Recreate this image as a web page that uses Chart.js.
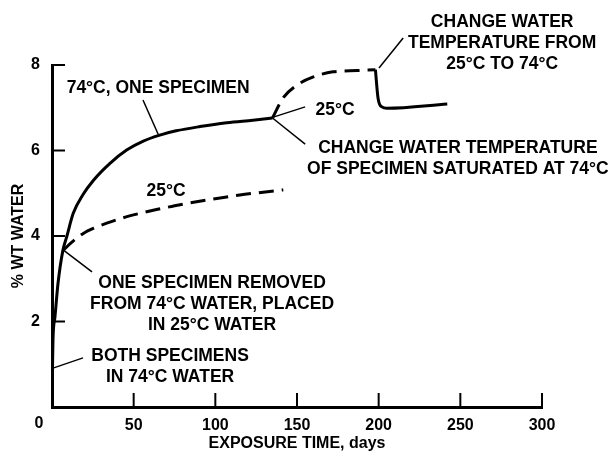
<!DOCTYPE html>
<html>
<head>
<meta charset="utf-8">
<script src="https://cdn.jsdelivr.net/npm/chart.js@4/dist/chart.umd.min.js"></script>
<style>
html,body{margin:0;padding:0;background:#fff;}
#wrap{width:613px;height:452px;position:relative;}
</style>
</head>
<body>
<div id="wrap"><canvas id="c" width="613" height="452"></canvas></div>
<script>
// ---- data (days, % wt water) ----
const solid74Days = [0, 0.3, 0.6, 1.8, 3.7, 6.7, 9, 13, 19, 25.3, 35.5, 45.7, 55.9, 66, 76, 90.6, 107, 123, 135];
const solid74Vals = [0, 0.9, 1.57, 2.1, 2.9, 3.67, 3.98, 4.53, 4.97, 5.3, 5.70, 6.01, 6.22, 6.36, 6.46, 6.56, 6.65, 6.71, 6.76];
const dashed25LowDays = [7, 12, 19.2, 26, 33.5, 43, 53.9, 64, 74.3, 84, 94.7, 105, 115, 128, 141.6];
const dashed25LowVals = [3.67, 3.85, 4.06, 4.19, 4.30, 4.42, 4.53, 4.62, 4.70, 4.77, 4.84, 4.90, 4.96, 5.02, 5.08];
const dashed25HighDays = [135, 141.5, 150, 160, 172, 187, 198];
const dashed25HighVals = [6.76, 7.23, 7.53, 7.72, 7.84, 7.87, 7.89];
const back74Days = [198, 199.6, 202, 205, 242];
const back74Vals = [7.89, 7.23, 7.02, 6.99, 7.09];
const xTicks = [0, 50, 100, 150, 200, 250, 300];
const yTicks = [0, 2, 4, 6, 8];

// annotations: text lines, anchor (data units) and leader line (data units)
const notes = [
  {lines:["74°C, ONE SPECIMEN"], x:65, y:7.46, lead:[[55.7,7.18],[65,6.38]]},
  {lines:["25°C"], x:69.8, y:5.05},
  {lines:["25°C"], x:173.3, y:6.95, lead:[[135.5,6.78],[155,7.02]]},
  {lines:["CHANGE WATER TEMPERATURE","OF SPECIMEN SATURATED AT 74°C"], x:248.5, y:6.06, lead:[[135,6.76],[155,6.15]]},
  {lines:["CHANGE WATER","TEMPERATURE FROM","25°C TO 74°C"], x:275.6, y:9.0, lead:[[200.2,7.93],[215,8.63]]},
  {lines:["ONE SPECIMEN REMOVED","FROM 74°C WATER, PLACED","IN 25°C WATER"], x:98, y:2.9, lead:[[7,3.67],[24.5,3.16]]},
  {lines:["BOTH SPECIMENS","IN 74°C WATER"], x:72.3, y:1.19, lead:[[0.6,0.91],[19,1.15]]}
];

const pts = (xs, ys) => xs.map((x, i) => ({x, y: ys[i]}));

Chart.defaults.font.family = "'Liberation Sans', Arial, sans-serif";
Chart.defaults.font.weight = 'bold';
Chart.defaults.color = '#000';

const FONT = "bold 17.5px 'Liberation Sans', Arial, sans-serif";

const decor = {
  id: 'decor',
  afterDraw(chart) {
    const ctx = chart.ctx, xs = chart.scales.x, ys = chart.scales.y;
    ctx.save();
    ctx.strokeStyle = '#000';
    ctx.lineWidth = 2;
    // inward tick marks
    xTicks.forEach(v => {
      if (v === 0) return;
      const px = xs.getPixelForValue(v);
      ctx.beginPath(); ctx.moveTo(px, ys.getPixelForValue(0)); ctx.lineTo(px, ys.getPixelForValue(0) - 14); ctx.stroke();
    });
    yTicks.forEach(v => {
      if (v === 0) return;
      const py = ys.getPixelForValue(v);
      ctx.beginPath(); ctx.moveTo(xs.getPixelForValue(0), py); ctx.lineTo(xs.getPixelForValue(0) + 13, py); ctx.stroke();
    });
    // "0" label at origin
    ctx.fillStyle = '#000';
    ctx.font = "bold 16px 'Liberation Sans', Arial, sans-serif";
    ctx.textAlign = 'center'; ctx.textBaseline = 'middle';
    ctx.fillText('0', xs.getPixelForValue(0) - 13, ys.getPixelForValue(0) + 17);
    // annotations
    ctx.font = FONT;
    ctx.lineWidth = 1.5;
    notes.forEach(n => {
      if (n.lead) {
        ctx.beginPath();
        ctx.moveTo(xs.getPixelForValue(n.lead[0][0]), ys.getPixelForValue(n.lead[0][1]));
        ctx.lineTo(xs.getPixelForValue(n.lead[1][0]), ys.getPixelForValue(n.lead[1][1]));
        ctx.stroke();
      }
      const cx = xs.getPixelForValue(n.x), cy = ys.getPixelForValue(n.y);
      n.lines.forEach((t, i) => ctx.fillText(t, cx, cy + i * 21));
    });
    ctx.restore();
  }
};

const lineStyle = (dash) => ({
  borderColor: '#000', borderWidth: 3, pointRadius: 0, fill: false,
  cubicInterpolationMode: 'monotone', borderDash: dash, borderCapStyle: 'butt'
});

new Chart(document.getElementById('c'), {
  type: 'line',
  data: {
    datasets: [
      Object.assign({label: '74°C, one specimen', data: pts(solid74Days, solid74Vals)}, lineStyle([])),
      Object.assign({label: '25°C', data: pts(dashed25LowDays, dashed25LowVals)}, lineStyle([15, 8])),
      Object.assign({label: '25°C (from saturated)', data: pts(dashed25HighDays, dashed25HighVals)}, lineStyle([15, 8])),
      Object.assign({label: '74°C again', data: pts(back74Days, back74Vals)}, lineStyle([]))
    ]
  },
  options: {
    responsive: false,
    animation: false,
    layout: {padding: {left: 0, right: 71, top: 65, bottom: 0}},
    plugins: {legend: {display: false}, tooltip: {enabled: false}},
    scales: {
      x: {
        type: 'linear', min: 0, max: 300,
        afterFit: s => { s.height = 45; },
        afterBuildTicks: s => { s.ticks = xTicks.map(v => ({value: v})); },
        grid: {display: false, drawTicks: false},
        border: {display: true, color: '#000', width: 3},
        ticks: {padding: 9, font: {size: 16, weight: 'bold'}, callback: v => v === 0 ? '' : String(v), maxRotation: 0},
        title: {display: true, text: 'EXPOSURE TIME, days', font: {size: 16, weight: 'bold', lineHeight: 1}, padding: {top: 0, bottom: 0}}
      },
      y: {
        min: 0, max: 8,
        afterFit: s => { s.width = 52; },
        afterBuildTicks: s => { s.ticks = yTicks.map(v => ({value: v})); },
        grid: {display: false, drawTicks: false},
        border: {display: true, color: '#000', width: 3},
        ticks: {padding: 12, font: {size: 16, weight: 'bold'}, callback: v => v === 0 ? '' : String(v)},
        title: {display: true, text: '% WT WATER', font: {size: 16, weight: 'bold'}, padding: {top: 9, bottom: 0}}
      }
    }
  },
  plugins: [decor]
});
</script>
</body>
</html>
